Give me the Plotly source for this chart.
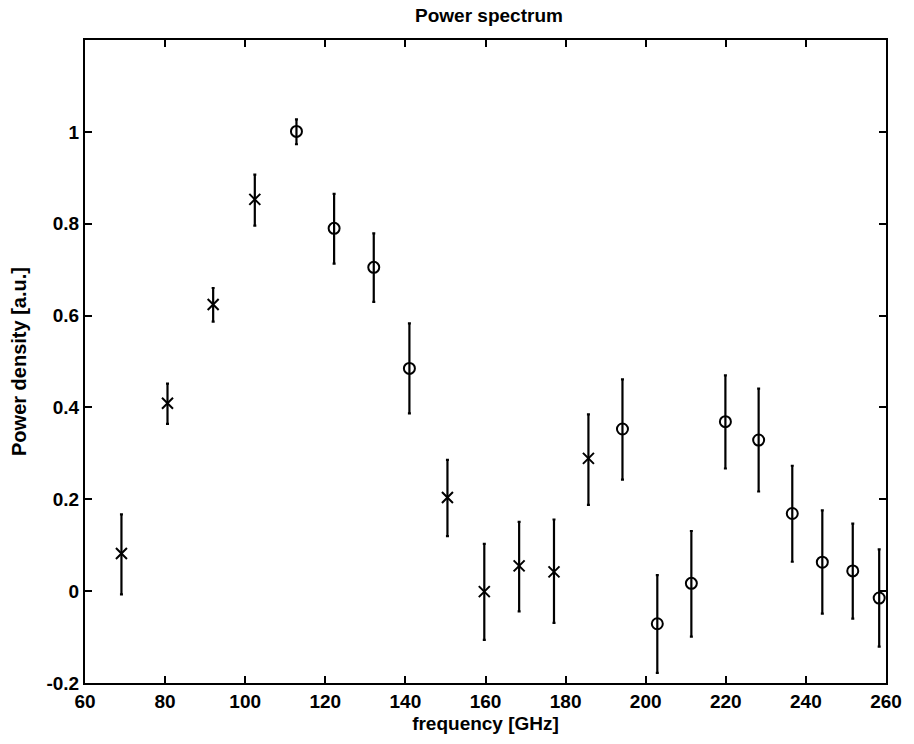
import plotly.graph_objects as go

# data: frequency [GHz], power density, error bar upper/lower ends
freq_x = [69.1, 80.6, 92.0, 102.4, 150.5, 159.7, 168.4, 177.1, 185.7]
pow_x = [0.082, 0.409, 0.624, 0.853, 0.204, -0.001, 0.055, 0.042, 0.289]
hi_x = [0.167, 0.452, 0.660, 0.907, 0.286, 0.103, 0.151, 0.156, 0.385]
lo_x = [-0.007, 0.364, 0.587, 0.796, 0.120, -0.106, -0.044, -0.069, 0.188]

freq_o = [112.8, 122.2, 132.1, 141.0, 194.2, 202.9, 211.4, 219.9, 228.2, 236.6, 244.1, 251.7, 258.3]
pow_o = [1.001, 0.790, 0.705, 0.485, 0.353, -0.071, 0.017, 0.369, 0.329, 0.169, 0.063, 0.044, -0.015]
hi_o = [1.027, 0.865, 0.779, 0.583, 0.461, 0.035, 0.131, 0.470, 0.441, 0.273, 0.176, 0.147, 0.091]
lo_o = [0.973, 0.713, 0.630, 0.387, 0.243, -0.178, -0.099, 0.267, 0.217, 0.064, -0.049, -0.060, -0.121]

x_ticks = [60, 80, 100, 120, 140, 160, 180, 200, 220, 240, 260]
y_ticks = [-0.2, 0, 0.2, 0.4, 0.6, 0.8, 1]
y_tick_text = ["-0.2", "0", "0.2", "0.4", "0.6", "0.8", "1"]

fig = go.Figure()

def add(xs, ys, hi, lo, symbol):
    fig.add_trace(go.Scatter(
        x=xs, y=ys, mode="markers",
        marker=dict(symbol=symbol, size=11, color="black",
                    line=dict(color="black", width=2)),
        error_y=dict(type="data", symmetric=False,
                     array=[h - y for h, y in zip(hi, ys)],
                     arrayminus=[y - l for l, y in zip(lo, ys)],
                     color="black", thickness=2.2, width=1.5),
        showlegend=False,
    ))

add(freq_x, pow_x, hi_x, lo_x, "x-thin-open")
add(freq_o, pow_o, hi_o, lo_o, "circle-open")

font = "Liberation Sans, Arial, Helvetica, sans-serif"
fig.update_layout(
    width=914, height=744,
    margin=dict(l=85, r=22, t=40, b=61),
    paper_bgcolor="white", plot_bgcolor="white",
    font=dict(family=font, color="black", size=18, weight="bold"),
    title=dict(text="Power spectrum", x=0.535, xanchor="center",
               y=0.98, yanchor="middle", font=dict(size=19, weight="bold")),
    xaxis=dict(range=[60, 260], tickvals=x_ticks, ticks="inside", ticklen=7,
               tickwidth=1.5, tickcolor="black",
               showline=True, linecolor="black", linewidth=2, mirror="ticks",
               showgrid=False, zeroline=False,
               title=dict(text="frequency [GHz]", font=dict(size=19, weight="bold"), standoff=6),
               tickfont=dict(size=19, weight="bold")),
    yaxis=dict(range=[-0.2, 1.2], tickvals=y_ticks, ticktext=y_tick_text,
               ticks="inside", ticklen=7, tickwidth=1.5, tickcolor="black",
               showline=True, linecolor="black", linewidth=2, mirror="ticks",
               showgrid=False, zeroline=False,
               title=dict(text="Power density [a.u.]", font=dict(size=20, weight="bold"), standoff=14),
               tickfont=dict(size=19, weight="bold")),
)

fig.write_html("out.html")
